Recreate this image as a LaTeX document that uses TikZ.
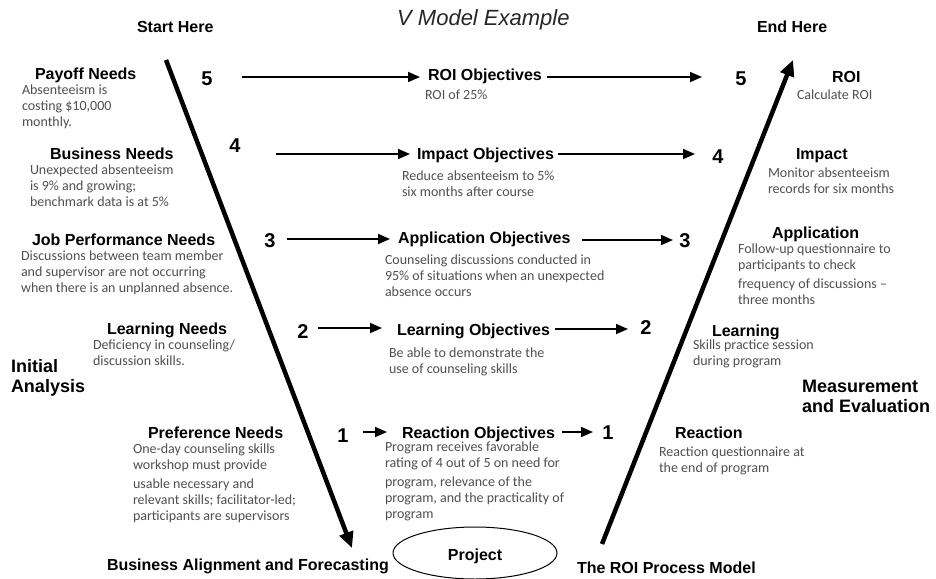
\documentclass[tikz,border=0pt]{standalone}
\usepackage{fontspec}
\setmainfont{Liberation Sans}
\newfontfamily\bodyfont{Carlito}
\usetikzlibrary{arrows.meta,shapes.geometric}
\definecolor{bodygray}{RGB}{80,80,80}
\newcommand{\stack}[1]{\begin{tabular}[t]{@{}l@{}}#1\end{tabular}}
\begin{document}
\begin{tikzpicture}[x=1pt,y=-1pt,
  hd/.style={font=\fontsize{16}{18}\selectfont\bfseries, inner sep=0pt, outer sep=0pt, anchor=base west},
  bigtitle/.style={font=\fontsize{18}{20}\selectfont\bfseries, inner sep=0pt, outer sep=0pt, anchor=base west},
  bd/.style={font=\bodyfont\fontsize{14}{16}\selectfont, text=bodygray, inner sep=0pt, outer sep=0pt, anchor=base west},
  num/.style={font=\fontsize{20}{22}\selectfont\bfseries, inner sep=0pt, outer sep=0pt, anchor=base},
  thinarr/.style={line width=1.8pt, -{Triangle[length=12pt,width=10pt]}},
  thickarr/.style={line width=4.5pt, -{Triangle[length=16pt,width=14pt]}}]
\useasboundingbox (0,0) rectangle (936,578);
\fill[white] (0,0) rectangle (936,578);

% headings along the top
\node[hd] (starthere) at (137,33) {Start Here};
\node[hd] (endhere) at (757,33) {End Here};
\node[font=\fontsize{22}{24}\selectfont\itshape, text=black!85, inner sep=0pt, anchor=base west] (title) at (397,26) {V Model Example};

% needs (left column)
\node[hd] (payoff) at (35,79) {Payoff Needs};
\node[bd] (payoffTxt) at (22,94) {\stack{Absenteeism is\\costing \$10,000\\monthly.}};
\node[hd] (bizneeds) at (50,159) {Business Needs};
\node[bd] (bizTxt) at (30,174) {\stack{Unexpected absenteeism\\is 9\% and growing;\\benchmark data is at 5\%}};
\node[hd] (jobneeds) at (32,245) {Job Performance Needs};
\node[bd] (jobTxt) at (21,260) {\stack{Discussions between team member\\and supervisor are not occurring\\when there is an unplanned absence.}};
\node[hd] (learnneeds) at (107,334) {Learning Needs};
\node[bd] (learnTxt) at (93,349) {\stack{Deficiency in counseling/\\discussion skills.}};
\node[bigtitle] (initial) at (11,372) {\stack{Initial\\Analysis}};
\node[hd] (prefneeds) at (148,438) {Preference Needs};
\node[bd] (prefTxt) at (133,453) {\stack{One-day counseling skills\\workshop must provide\\[3pt]usable necessary and\\relevant skills; facilitator-led;\\participants are supervisors}};
\node[hd] (alignment) at (107,570) {Business Alignment and Forecasting};

% level numbers
\node[num] (nL5) at (207,85) {5};
\node[num] (nL4) at (235,152) {4};
\node[num] (nL3) at (270,247) {3};
\node[num] (nL2) at (303,338) {2};
\node[num] (nL1) at (343,442) {1};
\node[num] (nR5) at (741,85) {5};
\node[num] (nR4) at (718,163) {4};
\node[num] (nR3) at (685,247) {3};
\node[num] (nR2) at (646,334) {2};
\node[num] (nR1) at (608,439) {1};

% objectives (middle column)
\node[hd] (roiobj) at (428,81) {ROI Objectives};
\node[bd] (roiTxt) at (425,99) {ROI of 25\%};
\node[hd] (impobj) at (417,159) {Impact Objectives};
\node[bd] (impTxt) at (402,180) {\stack{Reduce absenteeism to 5\%\\six months after course}};
\node[hd] (appobj) at (398,243) {Application Objectives};
\node[bd] (appTxt) at (385,264) {\stack{Counseling discussions conducted in\\95\% of situations when an unexpected\\absence occurs}};
\node[hd] (lrnobj) at (397,335) {Learning Objectives};
\node[bd] (lrnTxt) at (389,357) {\stack{Be able to demonstrate the\\use of counseling skills}};
\node[hd] (reaobj) at (402,438) {Reaction Objectives};
\node[bd] (reaTxt) at (385,451) {\stack{Program receives favorable\\rating of 4 out of 5 on need for\\[3pt]program, relevance of the\\program, and the practicality of\\program}};

% measures (right column)
\node[hd] (roi) at (832,82) {ROI};
\node[bd] (roiM) at (797,99) {Calculate ROI};
\node[hd] (impact) at (796,159) {Impact};
\node[bd] (impM) at (768,177) {\stack{Monitor absenteeism\\records for six months}};
\node[hd] (application) at (772,238) {Application};
\node[bd] (appM) at (738,253) {\stack{Follow-up questionnaire to\\participants to check\\[3pt]frequency of discussions \textendash\\three months}};
\node[hd] (learning) at (712,336) {Learning};
\node[bd] (lrnM) at (693,349) {\stack{Skills practice session\\during program}};
\node[hd] (reaction) at (675,438) {Reaction};
\node[bd] (reaM) at (659,456) {\stack{Reaction questionnaire at\\the end of program}};
\node[bigtitle] (measure) at (802,392) {\stack{Measurement\\and Evaluation}};
\node[hd] (roimodel) at (577,573) {The ROI Process Model};

% project ellipse at the bottom of the V
\node[draw, ellipse, line width=1pt, minimum width=164pt, minimum height=52pt, inner sep=0pt] (project) at (475,553) {};
\node[hd, anchor=base] (projectLbl) at (475,560) {Project};

% the two legs of the V
\coordinate (vLtop) at (166,60);
\coordinate (vLbot) at (352,548);
\coordinate (vRbot) at (602,544);
\coordinate (vRtop) at (793,60);
\draw[thickarr] (vLtop) -- (vLbot);
\draw[thickarr] (vRbot) -- (vRtop);

% level arrows
\coordinate (a5s) at (242,77);  \coordinate (a5t) at (420,77);
\coordinate (b5s) at (547,77);  \coordinate (b5t) at (702,77);
\coordinate (a4s) at (276,154); \coordinate (a4t) at (410,154);
\coordinate (b4s) at (558,154); \coordinate (b4t) at (695,154);
\coordinate (a3s) at (287,239); \coordinate (a3t) at (390,239);
\coordinate (b3s) at (582,240); \coordinate (b3t) at (673,240);
\coordinate (a2s) at (318,328); \coordinate (a2t) at (382,328);
\coordinate (b2s) at (555,329); \coordinate (b2t) at (628,329);
\coordinate (a1s) at (363,432); \coordinate (a1t) at (387,432);
\coordinate (b1s) at (562,432); \coordinate (b1t) at (593,432);
\foreach \p in {a5,b5,a4,b4,a3,b3,a2,b2,a1,b1}
  \draw[thinarr] (\p s) -- (\p t);
\end{tikzpicture}
\end{document}
